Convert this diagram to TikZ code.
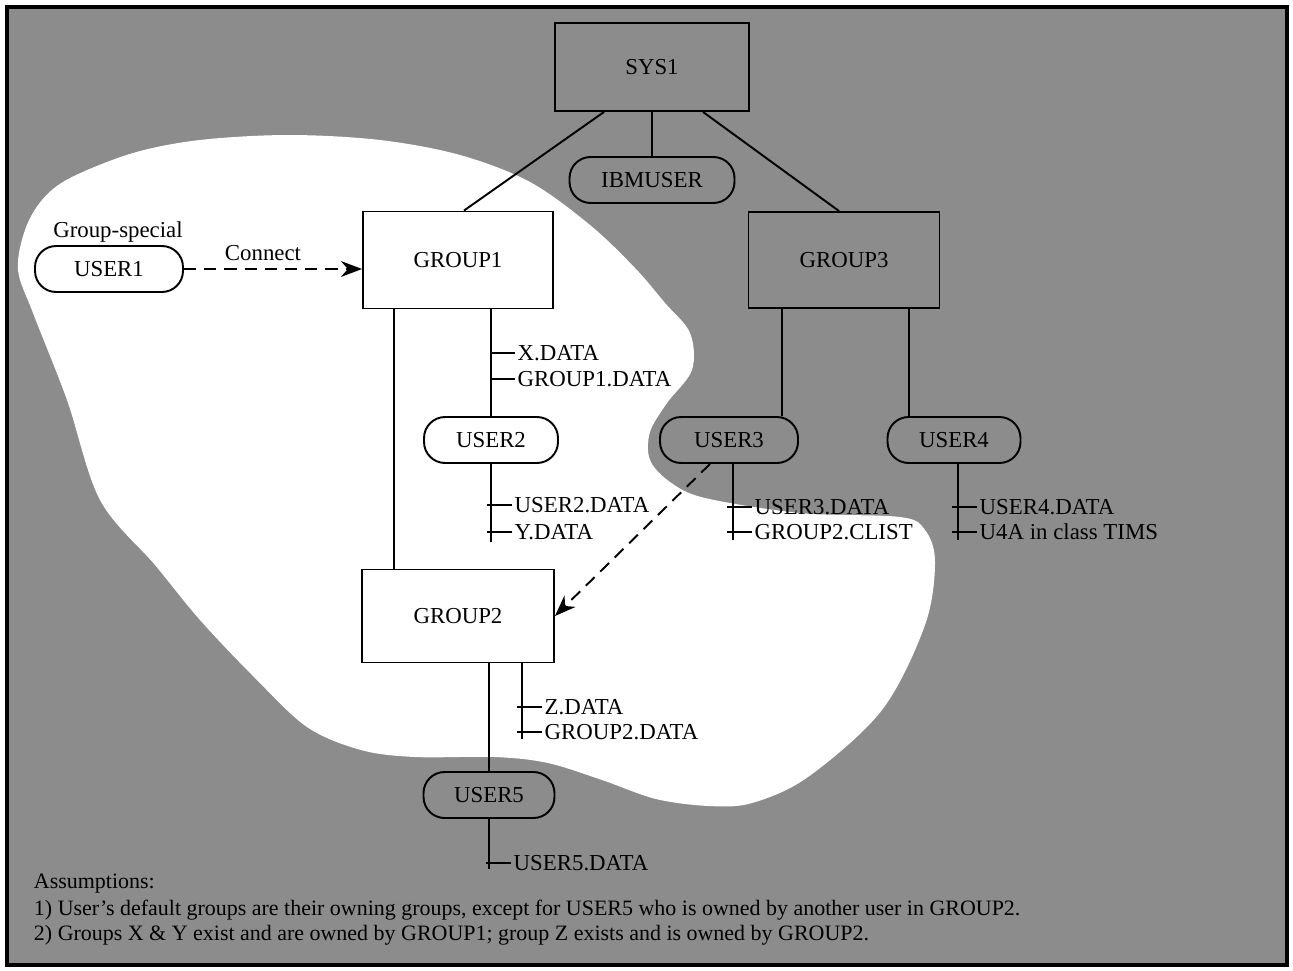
\documentclass[tikz,border=0pt]{standalone}
\usepackage{fontspec}
\setmainfont{Liberation Serif}
\usetikzlibrary{arrows.meta}
\begin{document}
\begin{tikzpicture}[x=0.02cm, y=-0.02cm, line width=1.1pt,
    every node/.style={font=\fontsize{13}{15}\selectfont},
    grp/.style={draw, line width=1.1pt, inner sep=0pt},
    usr/.style={draw, line width=1.1pt, rounded corners=12pt,
                minimum height=0.92cm, inner sep=0pt},
    ds/.style={anchor=west, inner sep=1pt},
    note/.style={anchor=west, inner sep=0pt, font=\fontsize{12.5}{14}\selectfont},
    conn/.style={dash pattern=on 7pt off 4.5pt},
    >={Stealth[length=12pt,width=9pt]}]
  \useasboundingbox (0,0) rectangle (1293,970);
  % background and the white area
  \fill[black!45] (7,7) rectangle (1287,965);
  \fill[white] plot[smooth cycle, tension=0.55] coordinates {
    (289,135) (380,140) (460,155) (530,182) (590,225) (635,268) (665,303)
    (690,333) (692,370) (667,403) (650,432) (650,460) (670,482) (705,498)
    (800,513) (900,517) (925,530) (935,562) (925,625) (882,710) (808,777)
    (752,803) (709,806) (656,799) (602,780) (548,763) (495,757) (415,757)
    (361,750) (307,727) (254,677) (200,620) (155,565) (100,500) (67,400)
    (33,313) (18,270) (25,230) (42,200) (70,178) (133,153) (200,140)};
  \draw[line width=1.8pt] (7,7) rectangle (1287,965);

  % groups
  \node[grp, minimum width=3.88cm, minimum height=1.76cm] (sys1) at (652,67)  {SYS1};
  \node[grp, minimum width=3.8cm,  minimum height=1.94cm] (grp1) at (458,260) {GROUP1};
  \node[grp, minimum width=3.82cm, minimum height=1.92cm] (grp3) at (844,260) {GROUP3};
  \node[grp, minimum width=3.84cm, minimum height=1.86cm] (grp2) at (458,616) {GROUP2};

  % users
  \node[usr, minimum width=2.96cm] (usr1) at (109,269) {USER1};
  \node[usr, minimum width=3.3cm]  (ibm)  at (652,180) {IBMUSER};
  \node[usr, minimum width=2.68cm] (usr2) at (491,440) {USER2};
  \node[usr, minimum width=2.76cm] (usr3) at (729,440) {USER3};
  \node[usr, minimum width=2.66cm] (usr4) at (954,440) {USER4};
  \node[usr, minimum width=2.62cm] (usr5) at (489,795) {USER5};

  \node (gspec) at (118,232) {Group-special};
  \node (cnct)  at (263,253) {Connect};

  % ownership
  \draw (sys1) -- (ibm);
  \draw ([xshift=-0.96cm]sys1.south) -- ([xshift=0.12cm]grp1.north);
  \draw ([xshift=1.02cm]sys1.south) -- ([xshift=-0.1cm]grp3.north);
  \draw ([xshift=-1.28cm]grp1.south) -- ([xshift=-1.28cm]grp2.north);
  \draw (grp1.south -| usr2) -- (usr2);
  \draw ([xshift=-1.24cm]grp3.south) -- ([xshift=1.06cm]usr3.north);
  \draw ([xshift=1.3cm]grp3.south) -- ([xshift=-0.9cm]usr4.north);
  \draw (grp2.south -| usr5) -- (usr5);

  % connects
  \draw[->, conn] (usr1.east) -- (usr1.east -| grp1.west);
  \draw[->, conn] ([xshift=-0.38cm]usr3.south) -- (grp2.east);

  % data sets
  \node[ds] (xdat)  at (515,353) {X.DATA};
  \node[ds] (g1dat) at (515,379) {GROUP1.DATA};
  \draw (xdat.west) -- ++(-25,0);
  \draw (g1dat.west) -- ++(-25,0);

  \draw (usr2.south) -- ++(0,78);
  \node[ds] (u2dat) at (512,505) {USER2.DATA};
  \node[ds] (ydat)  at (512,532) {Y.DATA};
  \draw (u2dat.west) -- ++(-25,0);
  \draw (ydat.west) -- ++(-25,0);

  \draw ([xshift=0.08cm]usr3.south) -- ++(0,76);
  \node[ds] (u3dat) at (752,507) {USER3.DATA};
  \node[ds] (clist) at (752,532) {GROUP2.CLIST};
  \draw (u3dat.west) -- ++(-25,0);
  \draw (clist.west) -- ++(-25,0);

  \draw ([xshift=0.08cm]usr4.south) -- ++(0,76);
  \node[ds] (u4dat) at (977,507) {USER4.DATA};
  \node[ds] (u4a)   at (977,532) {U4A in class TIMS};
  \draw (u4dat.west) -- ++(-25,0);
  \draw (u4a.west) -- ++(-25,0);

  \draw ([xshift=1.28cm]grp2.south) -- ++(0,76);
  \node[ds] (zdat)  at (542,707) {Z.DATA};
  \node[ds] (g2dat) at (542,732) {GROUP2.DATA};
  \draw (zdat.west) -- ++(-25,0);
  \draw (g2dat.west) -- ++(-25,0);

  \draw (usr5.south) -- ++(0,50);
  \node[ds] (u5dat) at (511,863) {USER5.DATA};
  \draw (u5dat.west) -- ++(-25,0);

  % notes
  \node[note] (ass)  at (33,884) {Assumptions:};
  \node[note] (ass1) at (33,910) {1) User's default groups are their owning groups, except for USER5 who is owned by another user in GROUP2.};
  \node[note] (ass2) at (33,935) {2) Groups X \& Y exist and are owned by GROUP1; group Z exists and is owned by GROUP2.};
\end{tikzpicture}
\end{document}
